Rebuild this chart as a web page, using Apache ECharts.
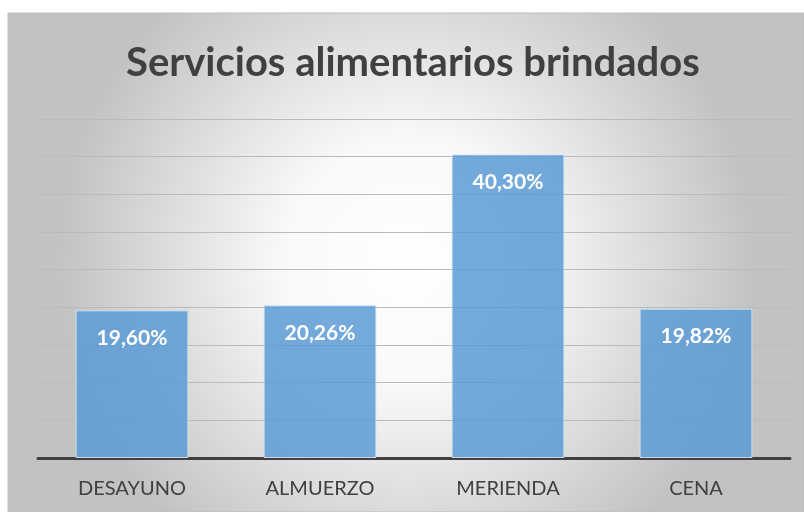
<!DOCTYPE html>
<html>
<head>
<meta charset="utf-8">
<script src="https://cdn.jsdelivr.net/npm/echarts@6/dist/echarts.min.js"></script>
<style>
  html, body { margin: 0; padding: 0; background: #fff; }
  #main { width: 804px; height: 512px; }
</style>
</head>
<body>
<div id="main"></div>
<script>
// datos del gráfico
const categorias = ['DESAYUNO', 'ALMUERZO', 'MERIENDA', 'CENA'];
const porcentajes = [19.60, 20.26, 40.30, 19.82];
const titulo = 'Servicios alimentarios brindados';

let myChart = echarts.init(document.getElementById('main'));

let option = {
    backgroundColor: '#ffffff',
    animation: false,
    title: {
        text: titulo,
        left: 121,
        top: 38,
        textStyle: {
            fontFamily: 'Lato',
            fontWeight: 'bold',
            fontSize: 40,
            color: '#404040'
        }
    },
    graphic: [{
        type: 'rect',
        z: -10,
        silent: true,
        shape: { x: 8, y: 13, width: 796, height: 499 },
        style: {
            fill: new echarts.graphic.RadialGradient(0.5, 0.5, 0.7, [
                { offset: 0, color: '#ffffff' },
                { offset: 0.35, color: '#f9f9f9' },
                { offset: 1, color: '#c2c2c2' }
            ]),
            stroke: '#bcbcbc',
            lineWidth: 1
        }
    }],
    grid: {
        left: 38,
        right: 14,
        top: 119,
        bottom: 54
    },
    xAxis: {
        type: 'category',
        data: categorias,
        axisTick: { show: false },
        axisLine: { lineStyle: { color: '#404040', width: 3 } },
        axisLabel: {
            color: '#404040',
            fontFamily: 'Lato',
            fontSize: 20,
            margin: 21
        }
    },
    yAxis: {
        type: 'value',
        min: 0,
        max: 45,
        interval: 5,
        axisLabel: { show: false },
        axisLine: { show: false },
        axisTick: { show: false },
        splitLine: { lineStyle: { color: '#bababa', width: 1 } }
    },
    series: [{
        type: 'bar',
        data: porcentajes,
        barWidth: '60%',
        itemStyle: {
            color: 'rgba(91,155,213,0.85)',
            borderColor: 'rgba(210,228,245,0.9)',
            borderWidth: 1
        },
        label: {
            show: true,
            position: 'insideTop',
            distance: 17,
            color: '#ffffff',
            fontFamily: 'Lato',
            fontWeight: 'bold',
            fontSize: 21,
            formatter: function (p) {
                return p.value.toFixed(2).replace('.', ',') + '%';
            }
        }
    }]
};

myChart.setOption(option);
</script>
</body>
</html>
